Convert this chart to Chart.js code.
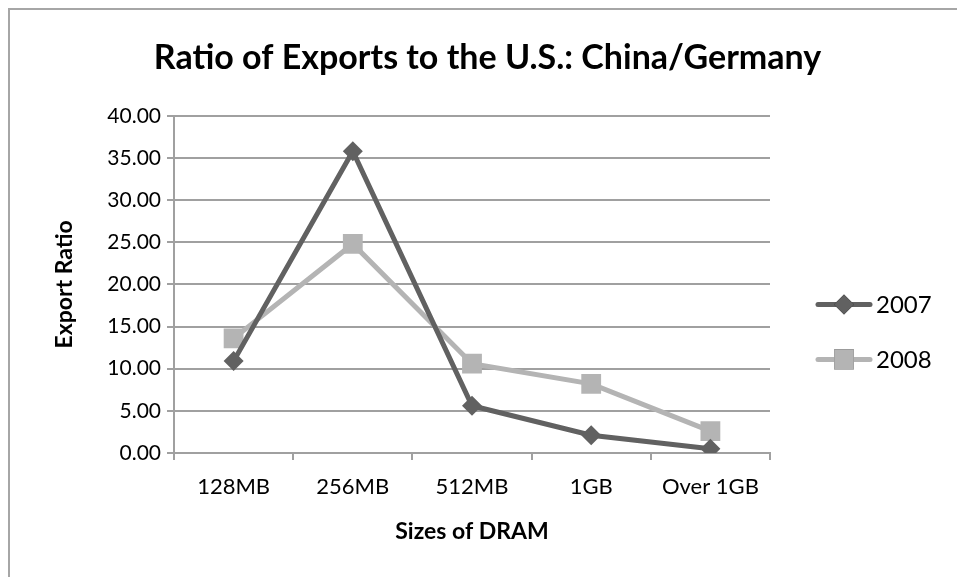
<!DOCTYPE html>
<html>
<head>
<meta charset="utf-8">
<script src="https://cdn.jsdelivr.net/npm/chart.js@4"></script>
<style>
  html, body { margin: 0; padding: 0; background: #fff; overflow: hidden; }
  #frame { position: absolute; left: 8px; top: 8px; width: 1200px; height: 1200px; border: 2px solid #a6a6a6; box-sizing: border-box; }
  #wrap { position: absolute; left: 0; top: 0; width: 957px; height: 577px; }
</style>
</head>
<body>
<div id="frame"></div>
<div id="wrap"><canvas id="chart" width="957" height="577"></canvas></div>
<script>
const sizes = ['128MB', '256MB', '512MB', '1GB', 'Over 1GB'];
const ratio2007 = [10.9, 35.8, 5.6, 2.1, 0.5];
const ratio2008 = [13.6, 24.8, 10.6, 8.2, 2.6];
const yTicks = [0, 5, 10, 15, 20, 25, 30, 35, 40];

const fontFamily = 'Lato, "Open Sans", sans-serif';

// legend with line through marker, drawn to the right of the plot
const sideLegend = {
    id: 'sideLegend',
    afterDraw(chart) {
        const ctx = chart.ctx;
        const area = chart.chartArea;
        const x0 = area.right + 48;
        const mid = (area.top + area.bottom) / 2;
        chart.data.datasets.forEach((ds, i) => {
            const y = mid + 20 + i * 55;
            ctx.save();
            ctx.strokeStyle = ds.borderColor;
            ctx.lineWidth = 5;
            ctx.lineCap = 'round';
            ctx.beginPath();
            ctx.moveTo(x0, y);
            ctx.lineTo(x0 + 52, y);
            ctx.stroke();
            Chart.helpers.drawPoint(ctx, {
                pointStyle: ds.pointStyle,
                radius: ds.pointRadius,
                borderWidth: 0
            }, x0 + 26, y);
            ctx.fillStyle = ds.pointBackgroundColor;
            ctx.fill();
            ctx.fillStyle = '#000';
            ctx.font = '24px ' + fontFamily;
            ctx.textBaseline = 'middle';
            ctx.fillText(ds.label, x0 + 58, y + 1);
            ctx.restore();
        });
    }
};

new Chart(document.getElementById('chart'), {
    type: 'line',
    data: {
        labels: sizes,
        datasets: [{
            label: '2007',
            data: ratio2007,
            borderColor: '#616161',
            backgroundColor: '#616161',
            pointBackgroundColor: '#616161',
            pointBorderWidth: 0,
            borderWidth: 5,
            pointStyle: 'rectRot',
            pointRadius: 10,
            tension: 0
        }, {
            label: '2008',
            data: ratio2008,
            borderColor: '#b4b4b4',
            backgroundColor: '#b4b4b4',
            pointBackgroundColor: '#b4b4b4',
            pointBorderWidth: 0,
            borderWidth: 5,
            pointStyle: 'rect',
            pointRadius: 14,
            tension: 0
        }]
    },
    options: {
        responsive: false,
        animation: false,
        layout: { padding: { left: 18, right: 0, top: 0, bottom: 0 } },
        plugins: {
            legend: { display: false },
            tooltip: { enabled: false },
            title: {
                display: true,
                text: 'Ratio of Exports to the U.S.: China/Germany',
                color: '#000',
                font: { family: fontFamily, size: 34, weight: 'bold' },
                padding: { top: 38, bottom: 37 }
            }
        },
        scales: {
            x: {
                offset: true,
                grid: { display: true, offset: true, drawOnChartArea: false, drawTicks: true, tickLength: 7, color: '#a0a0a0', lineWidth: 2 },
                border: { color: '#a0a0a0', width: 2 },
                ticks: { color: '#000', font: { family: fontFamily, size: 22 }, padding: 14, maxRotation: 0 },
                title: { display: true, text: 'Sizes of DRAM', color: '#000', font: { family: fontFamily, size: 23, weight: 'bold' }, padding: { top: 0, bottom: 32 } },
                afterFit(scale) { scale.height = 124; }
            },
            y: {
                min: 0,
                max: 40,
                afterBuildTicks(scale) { scale.ticks = yTicks.map(v => ({ value: v })); },
                grid: { color: '#a0a0a0', lineWidth: 2, tickLength: 7 },
                border: { color: '#a0a0a0', width: 2 },
                ticks: { color: '#000', font: { family: fontFamily, size: 21 }, padding: 6, callback: v => v.toFixed(2) },
                title: { display: true, text: 'Export Ratio', color: '#000', font: { family: fontFamily, size: 23, weight: 'bold' }, padding: { top: 33, bottom: 0 } },
                afterFit(scale) { scale.width = 156; }
            },
            side: {
                position: 'right',
                display: true,
                grid: { display: false },
                border: { display: false },
                ticks: { display: false },
                afterFit(scale) { scale.width = 187; }
            }
        }
    },
    plugins: [sideLegend]
});
</script>
</body>
</html>
